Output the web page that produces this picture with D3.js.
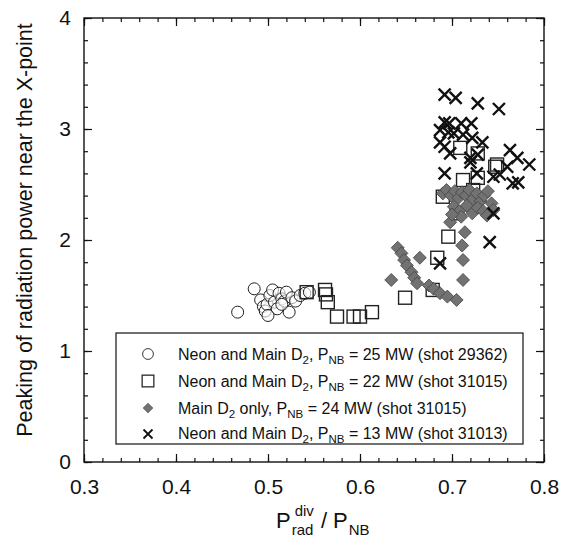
<!DOCTYPE html>
<html lang="en">
<head>
    <meta charset="UTF-8">
    <title>peaking</title>
</head>
<style>
    body { margin: 0; background: #fff; }
    svg text { font-family: "Liberation Sans", Arial, sans-serif; fill: #111; }
    .axis path { display: none; }
    .axis line { stroke: #111; stroke-width: 1.2; }
</style>
<body>
<svg class="chart"></svg>
<script src="https://cdn.jsdelivr.net/npm/d3@7/dist/d3.min.js"></script>
<script>
    // data  [P_rad_div/P_NB, peaking]
    var neon25 = [[0.467,1.35],[0.485,1.56],[0.492,1.46],[0.495,1.40],[0.497,1.36],[0.499,1.42],
        [0.502,1.50],[0.505,1.55],[0.507,1.44],[0.510,1.38],[0.512,1.52],[0.515,1.47],[0.518,1.45],
        [0.520,1.53],[0.523,1.35],[0.526,1.48],[0.530,1.45],[0.535,1.50],[0.540,1.52],[0.545,1.53],
        [0.500,1.32],[0.515,1.42]]
    var neon22 = [[0.542,1.53],[0.562,1.55],[0.563,1.51],[0.565,1.44],[0.575,1.31],[0.593,1.31],
        [0.600,1.31],[0.613,1.35],[0.649,1.48],[0.679,1.55],[0.684,1.84],[0.696,2.03],[0.705,2.24],
        [0.690,2.39],[0.712,2.54],[0.723,2.45],[0.728,2.56],[0.749,2.68],[0.709,2.83],[0.728,2.78],
        [0.747,2.66]]
    var mainD2 = [[0.634,1.64],[0.641,1.93],[0.645,1.88],[0.648,1.82],[0.651,1.77],[0.656,1.71],
        [0.659,1.66],[0.662,1.61],[0.665,1.84],[0.675,1.59],[0.680,1.56],[0.687,1.52],[0.695,1.49],
        [0.705,1.46],[0.712,1.64],[0.712,1.82],[0.711,1.95],[0.714,2.07],[0.698,2.16],[0.690,2.42],
        [0.694,2.45],[0.699,2.40],[0.703,2.44],[0.707,2.38],[0.711,2.43],[0.715,2.40],[0.719,2.45],
        [0.723,2.37],[0.727,2.42],[0.731,2.35],[0.735,2.40],[0.739,2.44],[0.743,2.33],[0.745,2.27],
        [0.702,2.30],[0.708,2.26],[0.716,2.31],[0.722,2.24],[0.728,2.29],[0.734,2.26],[0.738,2.22],
        [0.710,2.21],[0.700,2.23]]
    var neon13 = [[0.692,3.31],[0.704,3.28],[0.728,3.23],[0.751,3.18],[0.692,3.06],[0.697,3.05],
        [0.710,3.05],[0.721,3.05],[0.687,2.99],[0.696,2.97],[0.702,2.96],[0.712,2.95],[0.722,2.92],
        [0.733,2.88],[0.687,2.88],[0.692,2.84],[0.698,2.78],[0.720,2.74],[0.728,2.77],[0.763,2.81],
        [0.771,2.74],[0.784,2.68],[0.760,2.66],[0.720,2.70],[0.692,2.60],[0.727,2.60],[0.745,2.57],
        [0.752,2.59],[0.766,2.51],[0.772,2.52],[0.745,2.24],[0.741,1.98],[0.687,1.79]]

    var xTicks = [0.3,0.4,0.5,0.6,0.7,0.8]
    var yTicks = [0,1,2,3,4]

    var legendRows = [
        {sym: 'circle',  parts: [['Neon and Main D',''],['2','sub'],[', P',''],['NB','sub'],[' = 25 MW (shot 29362)','']]},
        {sym: 'square',  parts: [['Neon and Main D',''],['2','sub'],[', P',''],['NB','sub'],[' = 22 MW (shot 31015)','']]},
        {sym: 'diamond', parts: [['Main D',''],['2','sub'],[' only, P',''],['NB','sub'],[' = 24 MW (shot 31015)','']]},
        {sym: 'cross',   parts: [['Neon and Main D',''],['2','sub'],[', P',''],['NB','sub'],[' = 13 MW (shot 31013)','']]}
    ]

    var W = 568, H = 546
    var svg = d3.select('.chart').attr('width', W).attr('height', H)

    var x = d3.scaleLinear().domain([0.3, 0.8]).range([84, 544])
    var y = d3.scaleLinear().domain([0, 4]).range([462, 18])

    // minor ticks
    var xMinor = d3.range(0.3, 0.8001, 0.02)
    var yMinor = d3.range(0, 4.001, 0.2)

    function addAxis(axis, tx, ty) {
        return svg.append('g').attr('class', 'axis').attr('transform', 'translate(' + tx + ',' + ty + ')').call(axis)
    }
    addAxis(d3.axisBottom(x).tickValues(xTicks).tickSize(-8).tickPadding(17).tickFormat(d3.format('.1f')), 0, 462)
    addAxis(d3.axisBottom(x).tickValues(xMinor).tickSize(-4).tickFormat(''), 0, 462)
    addAxis(d3.axisTop(x).tickValues(xTicks).tickSize(-8).tickFormat(''), 0, 18)
    addAxis(d3.axisTop(x).tickValues(xMinor).tickSize(-4).tickFormat(''), 0, 18)
    addAxis(d3.axisLeft(y).tickValues(yTicks).tickSize(-8).tickPadding(13).tickFormat(d3.format('d')), 84, 0)
    addAxis(d3.axisLeft(y).tickValues(yMinor).tickSize(-4).tickFormat(''), 84, 0)
    addAxis(d3.axisRight(y).tickValues(yTicks).tickSize(-8).tickFormat(''), 544, 0)
    addAxis(d3.axisRight(y).tickValues(yMinor).tickSize(-4).tickFormat(''), 544, 0)

    svg.selectAll('.axis text').attr('font-size', 21).attr('font-family', '"Liberation Sans", Arial, sans-serif')

    // frame
    svg.append('rect')
        .attr('x', x(0.3)).attr('y', y(4))
        .attr('width', x(0.8) - x(0.3)).attr('height', y(0) - y(4))
        .attr('fill', 'none').attr('stroke', '#111').attr('stroke-width', 1.4)

    // symbol drawing
    function drawSym(g, kind) {
        if (kind === 'circle') {
            g.append('circle').attr('r', 6).attr('fill', '#fff').attr('fill-opacity', 0.6)
                .attr('stroke', '#222').attr('stroke-width', 1)
        } else if (kind === 'square') {
            g.append('rect').attr('x', -6.5).attr('y', -6.5).attr('width', 13).attr('height', 13)
                .attr('fill', 'none').attr('stroke', '#222').attr('stroke-width', 1.4)
        } else if (kind === 'diamond') {
            g.append('path').attr('d', 'M0,-6.5L6.5,0L0,6.5L-6.5,0Z')
                .attr('fill', '#727272').attr('stroke', '#444').attr('stroke-width', 0.8)
        } else {
            g.append('path').attr('d', 'M-6,-6L6,6M-6,6L6,-6')
                .attr('stroke', '#111').attr('stroke-width', 2.4).attr('fill', 'none')
        }
    }

    function plotSeries(data, kind) {
        svg.append('g').selectAll('g')
            .data(data)
            .enter()
            .append('g')
            .attr('transform', function (d) { return 'translate(' + x(d[0]) + ',' + y(d[1]) + ')' })
            .each(function () { drawSym(d3.select(this), kind) })
    }
    plotSeries(neon25, 'circle')
    plotSeries(neon22, 'square')
    plotSeries(mainD2, 'diamond')
    plotSeries(neon13, 'cross')

    // legend
    var lg = svg.append('g')
    lg.append('rect').attr('x', 116).attr('y', 333).attr('width', 407).attr('height', 111)
        .attr('fill', '#fff').attr('stroke', '#111').attr('stroke-width', 1.2)
    var rowY = [354, 381, 408, 433]
    legendRows.forEach(function (row, i) {
        var s = lg.append('g')
        if (row.sym === 'cross') s.attr('transform', 'translate(148,' + (rowY[i] + 1) + ') scale(0.75)')
        else if (row.sym === 'diamond') s.attr('transform', 'translate(148,' + rowY[i] + ') scale(0.75)')
        else s.attr('transform', 'translate(148,' + rowY[i] + ') scale(0.9)')
        drawSym(s, row.sym)
        var dia = row.sym === 'diamond'
        var fs = 16
        var t = lg.append('text').attr('x', 178).attr('y', rowY[i] + 6).attr('font-size', fs)
            .attr('fill', dia ? '#333' : '#111')
        var shift = 0
        row.parts.forEach(function (p) {
            var sub = p[1] === 'sub'
            t.append('tspan')
                .attr('dy', (sub ? 4 : 0) - shift)
                .attr('font-size', sub ? fs * 0.72 : fs)
                .text(p[0])
            shift = sub ? 4 : 0
        })
    })

    // axis titles
    svg.append('text')
        .attr('transform', 'translate(32,230) rotate(-90)')
        .attr('text-anchor', 'middle')
        .attr('font-size', 21.5)
        .text('Peaking of radiation power near the X-point')

    // x title: P_rad^div / P_NB, laid out piece by piece
    var xt = svg.append('g')
    var base = 528, cx = 276
    function piece(str, size, dy, px) {
        var el = xt.append('text').attr('x', px).attr('y', base + dy).attr('font-size', size).text(str)
        return el.node().getComputedTextLength()
    }
    var wP = piece('P', 22, 0, cx)
    var wRad = piece('rad', 15, 7, cx + wP + 1)
    var wDiv = piece('div', 15, -12, cx + wP + 4)
    var nx = cx + wP + 4 + Math.max(wRad - 3, wDiv) + 7
    var wSl = piece('/ P', 22, 0, nx)
    piece('NB', 15, 7, nx + wSl + 1)
</script>
</body>
</html>
